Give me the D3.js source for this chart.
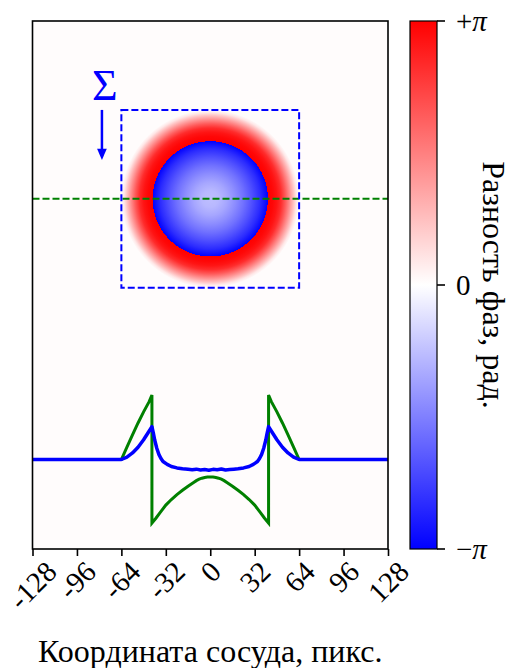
<!DOCTYPE html>
<html><head><meta charset="utf-8">
<script src="https://cdn.jsdelivr.net/npm/d3@7"></script>
<style>body{margin:0;background:#fff}svg{display:block}text{font-family:"Liberation Serif","Times New Roman",serif}</style>
</head><body><div id="chart"></div>
<script>
// ---- data ----
const xTicks = [-128, -96, -64, -32, 0, 32, 64, 96, 128];
const xLabel = "Координата сосуда, пикс.";
const cbLabel = "Разность фаз, рад.";
const cbTicks = [-Math.PI, 0, Math.PI];
const cbTickSign = ["−", "", "+"];
const cbTickSym = ["π", "0", "π"];
// phase profile along the green line (distance from centre, px) -> phase, rad
const profileR =     [0,     2,      4,     6,     8,     10,    12,    16,    20,    24,    28,    32,    36,    39,    42,    42,   44,   48,   52,   56,   60,   64];
const profilePhase = [-0.85, -0.857, -0.875, -0.91, -0.96, -1.03, -1.12, -1.30, -1.50, -1.71, -1.95, -2.22, -2.58, -2.85, -3.10, 3.14, 2.82, 2.32, 1.78, 1.20, 0.60, 0.0];
// phase map colours
const imageR =     [0,     6,     12,    18,    24,    30,    36,    41.5,  41.5, 45,   48,   51,   54,   57,   60,   62,   64];
const imagePhase = [-0.80, -0.88, -1.10, -1.40, -1.75, -2.15, -2.60, -3.12, 3.14, 3.05, 2.90, 2.60, 2.05, 1.40, 0.75, 0.30, 0.04];
const bgPhase = 0.04;
// column sum profile (Σ), same units
const sumX = [-128, -64, -60, -56, -52, -48, -45, -42, -41, -40, -38.5, -37, -35.5, -34, -31, -28, -24, -20, -16, -13, -10, -7, -4, -1, 2, 5, 8, 11, 14, 17, 20, 24, 28, 31, 34, 35.5, 37, 38.5, 40, 41, 42, 45, 48, 52, 56, 60, 64, 128];
const sumV = [0, 0, 0.12, 0.32, 0.60, 0.96, 1.28, 1.60, 1.30, 0.95, 0.55, 0.25, 0.05, -0.10, -0.24, -0.34, -0.41, -0.45, -0.48, -0.50, -0.47, -0.51, -0.49, -0.52, -0.48, -0.50, -0.46, -0.51, -0.49, -0.47, -0.45, -0.41, -0.34, -0.24, -0.10, 0.05, 0.25, 0.55, 0.95, 1.30, 1.60, 1.28, 0.96, 0.60, 0.32, 0.12, 0, 0];

// ---- layout ----
const W = 512, H = 668;
const P = {l: 32.5, r: 388, t: 21, b: 549};
const CB = {l: 410, r: 437};
const svg = d3.select("#chart").append("svg").attr("width", W).attr("height", H);
const defs = svg.append("defs");

const x = d3.scaleLinear().domain([-128, 128]).range([P.l, P.r]);
const y = d3.scaleLinear().domain([128, -252]).range([P.t, P.b]);
const yProf = d3.scaleLinear().domain([-Math.PI, Math.PI]).range([524, 395]);
const color = d3.scaleLinear().domain([-Math.PI, 0, Math.PI]).range(["#0000ff", "#ffffff", "#ff0000"]);
const cbY = d3.scaleLinear().domain([-Math.PI, Math.PI]).range([P.b, P.t]);

// background image
svg.append("rect").attr("x", P.l).attr("y", P.t).attr("width", P.r - P.l).attr("height", P.b - P.t).attr("fill", color(bgPhase));
const Rmax = d3.max(imageR);
const rg = defs.append("radialGradient").attr("id", "vessel");
rg.selectAll("stop").data(imageR.map((r, i) => ({r, v: imagePhase[i]})))
  .join("stop").attr("offset", d => d.r / Rmax).attr("stop-color", d => color(d.v));
svg.append("circle").attr("cx", x(0)).attr("cy", y(0)).attr("r", x(Rmax) - x(0)).attr("fill", "url(#vessel)");

// green dashed profile line
svg.append("line").attr("x1", x(-128)).attr("x2", x(128)).attr("y1", y(0)).attr("y2", y(0))
  .attr("stroke", "#008000").attr("stroke-width", 2).attr("stroke-dasharray", "7,3");
// blue dashed box
svg.append("rect").attr("x", x(-64)).attr("y", y(64)).attr("width", x(64) - x(-64)).attr("height", y(-64) - y(64))
  .attr("fill", "none").attr("stroke", "#0000ff").attr("stroke-width", 2).attr("stroke-dasharray", "7,3");

// Σ and arrow
svg.append("text").attr("x", x(-76)).attr("y", y(71)).attr("text-anchor", "middle").attr("fill", "#0000ff")
  .attr("font-size", 44).text("Σ");
svg.append("line").attr("x1", x(-78)).attr("x2", x(-78)).attr("y1", y(64)).attr("y2", y(34))
  .attr("stroke", "#0000ff").attr("stroke-width", 2.5);
svg.append("path").attr("fill", "#0000ff")
  .attr("d", `M${x(-81.5)},${y(36)}L${x(-74.5)},${y(36)}L${x(-78)},${y(28)}Z`);

// curves
const greenPts = [[-128, 0]];
for (let i = profileR.length - 1; i >= 0; i--) greenPts.push([-profileR[i], profilePhase[i]]);
for (let i = 1; i < profileR.length; i++) greenPts.push([profileR[i], profilePhase[i]]);
greenPts.push([128, 0]);
const line = d3.line().x(d => x(d[0])).y(d => yProf(d[1]));
svg.append("path").attr("d", line(greenPts)).attr("fill", "none").attr("stroke", "#008000")
  .attr("stroke-width", 3).attr("stroke-linejoin", "miter");
svg.append("path").attr("d", line(sumX.map((v, i) => [v, sumV[i]]))).attr("fill", "none").attr("stroke", "#0000ff")
  .attr("stroke-width", 3.5).attr("stroke-linejoin", "round");

// frame
svg.append("rect").attr("x", P.l).attr("y", P.t).attr("width", P.r - P.l).attr("height", P.b - P.t)
  .attr("fill", "none").attr("stroke", "#000").attr("stroke-width", 1.6);

// x axis
const tickLen = 7, FS = 29, LFS = 32;
const ax = svg.append("g").attr("transform", `translate(0,${P.b})`)
  .call(d3.axisBottom(x).tickValues(xTicks).tickSize(tickLen).tickFormat(d => String(d)));
ax.select(".domain").remove();
ax.selectAll(".tick line").attr("stroke", "#000").attr("stroke-width", 1.6);
ax.selectAll(".tick text").each(function(d) {
  const t = d3.select(this);
  t.attr("font-size", FS).attr("font-family", "Liberation Serif").attr("fill", "#000").attr("text-anchor", "middle")
   .attr("y", null).attr("dy", null);
  const w = this.getComputedTextLength();
  const h = 0.66 * FS;
  const cy = tickLen + 4 + (w + h) / (2 * Math.SQRT2);
  t.attr("transform", `translate(0,${cy}) rotate(-45)`).attr("y", 0.33 * FS);
});
svg.append("text").attr("x", (P.l + P.r) / 2).attr("y", 662).attr("text-anchor", "middle")
  .attr("font-size", LFS).text(xLabel);

// colorbar
const cg = defs.append("linearGradient").attr("id", "cbg").attr("x1", 0).attr("x2", 0).attr("y1", 1).attr("y2", 0);
cg.selectAll("stop").data(color.domain()).join("stop")
  .attr("offset", d => (d + Math.PI) / (2 * Math.PI)).attr("stop-color", d => color(d));
svg.append("rect").attr("x", CB.l).attr("y", P.t).attr("width", CB.r - CB.l).attr("height", P.b - P.t)
  .attr("fill", "url(#cbg)").attr("stroke", "#000").attr("stroke-width", 1.2);
cbTicks.forEach((v, i) => {
  svg.append("line").attr("x1", CB.r).attr("x2", CB.r + 8).attr("y1", cbY(v)).attr("y2", cbY(v))
    .attr("stroke", "#000").attr("stroke-width", 1.6);
  const t = svg.append("text").attr("x", CB.r + 19).attr("y", cbY(v)).attr("dy", "0.33em").attr("font-size", FS);
  if (cbTickSign[i]) t.append("tspan").text(cbTickSign[i]);
  t.append("tspan").attr("font-style", i === 1 ? "normal" : "italic").text(cbTickSym[i]);
});
svg.append("text").attr("transform", `translate(483,${(P.t + P.b) / 2}) rotate(90)`).attr("text-anchor", "middle")
  .attr("font-size", LFS).text(cbLabel);
</script></body></html>
